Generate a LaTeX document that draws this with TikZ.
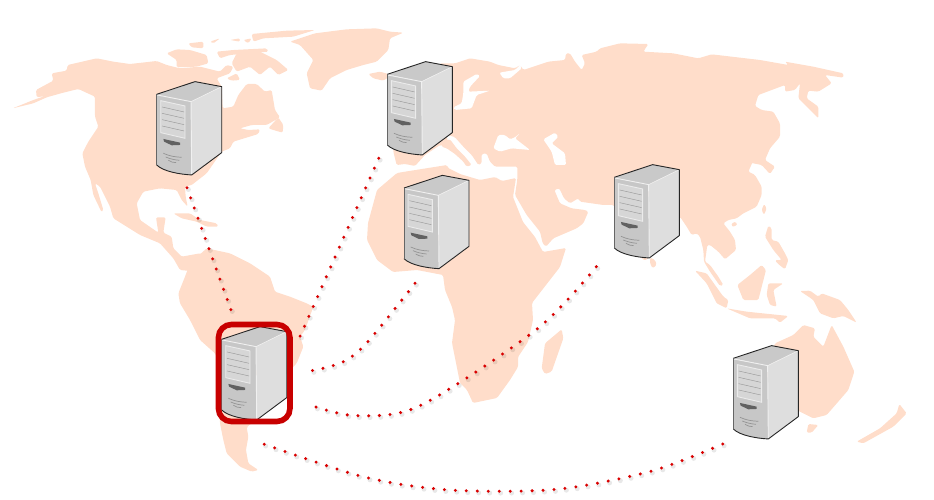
\documentclass[tikz,border=0pt]{standalone}
\definecolor{mapc}{RGB}{255,221,202}
\definecolor{linkred}{RGB}{218,0,0}
\definecolor{boxred}{RGB}{200,0,0}
\tikzset{
  land/.style={fill=mapc,draw=none,rounded corners=1.4pt},
  water/.style={fill=white,draw=none,rounded corners=1.4pt},
  zoomframe/.style={shift={#1},x=0.33333pt,y=-0.33333pt},
  dotshadow/.style={draw=black,draw opacity=.09,line width=5pt,line cap=round,dash pattern=on 0pt off #1,transform canvas={shift={(1.4pt,-1.8pt)}}},
  dottedlink/.style={draw=linkred,line width=3.3pt,line cap=round,dash pattern=on 0pt off #1},
  topface/.style={fill=black!21,draw=none},
  frontface/.style={fill=black!22,draw=none},
  sideface/.style={fill=black!13,draw=none},
  serveredge/.style={draw=black!85,line width=.9pt,line join=round,fill=none},
  panel/.style={fill=black!16,draw=black!8,line width=.9pt},
  slat/.style={draw=black!40,line width=.45pt},
  vent/.style={draw=black!42,line width=.7pt},
  server/.pic={
    \begin{scope}[x=0.33333pt,y=-0.33333pt]
      \fill[frontface] (0,0) -- (103,22) -- (105,242) .. controls (70,240) and (20,232) .. (0,212) -- cycle;
      \fill[topface] (0,0) -- (115,-38) -- (195,-23) -- (103,22) -- cycle;
      \fill[sideface] (103,22) -- (195,-23) -- (195,175) -- (105,242) -- cycle;
      \draw[draw=black!6,line width=.9pt] (1,2) -- (103,22) -- (105,240);
      \draw[draw=black!6,line width=.6pt] (103,22) -- (195,-23);
      \draw[panel] (12,19) -- (85,35) -- (85,132) -- (12,115) -- cycle;
      \draw[slat] (16,38) -- (82,53) (16,57) -- (82,72) (16,76) -- (82,91) (16,95) -- (82,110);
      \fill[black!62] (20,134) -- (70,145) -- (70,152) -- (45,153) -- (22,142) -- cycle;
      \draw[vent] (20,177) .. controls (40,186) and (55,188) .. (75,189);
      \draw[vent] (27,188) .. controls (40,194) and (55,197) .. (68,198);
      \draw[vent] (35,198) .. controls (42,203) and (50,205) .. (58,205);
      \draw[serveredge] (0,0) -- (115,-38) -- (195,-23) -- (195,175) -- (105,242) .. controls (70,240) and (20,232) .. (0,212);
      \draw[draw=black!60,line width=.9pt] (0,0) -- (0,212);
    \end{scope}
  }
}
\begin{document}
\begin{tikzpicture}[x=1pt,y=-1pt]
\useasboundingbox (0,0) rectangle (934,500);
% ---------- map: Americas, frame of the north-west
\begin{scope}[zoomframe={(0,10)}]
  \fill[land] (38,295) -- (100,270) -- (135,258) -- (110,262) -- (108,240) -- (160,212) -- (155,190) -- (200,182) -- (203,165) -- (290,145) -- (340,155) -- (390,162) -- (470,153) -- (500,165) -- (540,175) -- (600,170) -- (660,185) -- (680,165) -- (700,170) -- (690,190) -- (650,205) -- (665,230) -- (668,295) -- (700,290) -- (715,255) -- (740,222) -- (770,222) -- (795,245) -- (815,240) -- (825,300) -- (840,322) -- (800,345) -- (755,345) -- (720,355) -- (745,360) -- (780,358) -- (775,372) -- (700,395) -- (690,415) -- (665,425) -- (620,490) -- (575,525) -- (555,530) -- (557,560) -- (563,590) -- (545,570) -- (530,540) -- (480,535) -- (430,545) -- (410,580) -- (420,630) -- (475,668) -- (468,622) -- (497,622) -- (490,668) -- (515,680) -- (520,715) -- (545,740) -- (600,730) -- (640,735) -- (710,745) -- (640,790) -- (540,780) -- (520,745) -- (480,700) -- (420,675) -- (380,650) -- (340,625) -- (330,590) -- (300,530) -- (285,520) -- (295,550) -- (310,600) -- (305,607) -- (280,555) -- (272,510) -- (255,470) -- (247,430) -- (265,395) -- (295,350) -- (285,320) -- (285,260) -- (235,237) -- (190,248) -- (140,262) -- (100,280) -- cycle;
  % Cuba and Hispaniola
  \fill[land] (520,610) -- (570,610) -- (600,630) -- (650,640) -- (655,650) -- (620,650) -- (590,635) -- (545,625) -- cycle;
  % Newfoundland
  \fill[land] (805,355) -- (835,322) -- (850,345) -- (848,368) -- (820,360) -- cycle;
  % Arctic islands
  \fill[land] (500,130) -- (530,118) -- (570,120) -- (620,135) -- (625,160) -- (590,170) -- (530,172) -- (530,150) -- cycle;
  \fill[land] (565,100) -- (610,95) -- (610,115) -- (575,112) -- cycle;
  \fill[land] (630,95) -- (660,85) -- (640,100) -- cycle;
  \fill[land] (690,90) -- (720,85) -- (720,95) -- cycle;
  \fill[land] (730,90) -- (755,85) -- (745,100) -- cycle;
  \fill[land] (755,72) -- (860,62) -- (945,60) -- (880,80) -- (790,85) -- (760,95) -- cycle;
  \fill[land] (650,125) -- (700,120) -- (800,115) -- (805,125) -- (690,135) -- (660,145) -- cycle;
  \fill[land] (710,130) -- (780,125) -- (830,150) -- (865,180) -- (835,195) -- (810,170) -- (780,195) -- (750,170) -- (710,185) -- (695,160) -- cycle;
  \fill[land] (680,205) -- (710,190) -- (720,210) -- (695,212) -- cycle;
  % Greenland
  \fill[land] (870,95) -- (945,70) -- (1040,58) -- (1130,55) -- (1170,65) -- (1210,68) -- (1170,85) -- (1165,120) -- (1130,155) -- (1090,165) -- (1040,180) -- (990,205) -- (965,242) -- (930,235) -- (920,190) -- (940,150) -- (900,105) -- cycle;
  % Iceland
  \fill[land] (1105,192) -- (1140,185) -- (1175,195) -- (1150,212) -- (1120,205) -- cycle;
\end{scope}
% South America
\begin{scope}[zoomframe={(150,240)}]
  \fill[land] (120,70) -- (170,25) -- (240,40) -- (300,70) -- (360,110) -- (375,155) -- (420,170) -- (470,190) -- (490,200) -- (465,270) -- (450,290) -- (460,320) -- (440,370) -- (412,398) -- (360,470) -- (320,537) -- (290,562) -- (295,590) -- (288,630) -- (295,670) -- (325,690) -- (305,695) -- (270,680) -- (230,640) -- (220,600) -- (210,550) -- (200,350) -- (195,340) -- (150,300) -- (120,240) -- (90,190) -- (85,160) -- (105,110) -- cycle;
\end{scope}
% ---------- Eurasia
\begin{scope}[zoomframe={(460,20)}]
  \fill[land] (-60,130) -- (-15,130) -- (30,115) -- (90,125) -- (115,135) -- (165,145) -- (180,135) -- (190,150) -- (265,125) -- (315,120) -- (318,100) -- (330,100) -- (345,125) -- (365,150) -- (375,130) -- (365,105) -- (410,95) -- (420,85) -- (480,70) -- (565,72) -- (550,95) -- (640,100) -- (715,115) -- (755,103) -- (900,120) -- (985,135) -- (975,125) -- (1060,140) -- (1150,160) -- (1150,173) -- (1095,165) -- (1115,190) -- (1075,215) -- (1045,212) -- (1040,235) -- (1075,260) -- (1075,295) -- (1015,235) -- (1020,190) -- (1005,210) -- (975,215) -- (975,195) -- (895,225) -- (885,258) -- (905,270) -- (940,275) -- (960,310) -- (960,350) -- (930,385) -- (915,420) -- (945,440) -- (930,462) -- (905,435) -- (880,430) -- (840,425) -- (865,400) -- (885,410) -- (865,455) -- (885,465) -- (905,500)
   -- (905,525) -- (890,560) -- (850,580) -- (830,595) -- (805,600) -- (790,610) -- (810,635) -- (825,660) -- (828,690) -- (795,718) -- (775,695) -- (750,675) -- (742,675) -- (735,725) -- (750,735) -- (775,770) -- (790,795) -- (780,798) -- (750,755) -- (732,725) -- (730,690) -- (720,650) -- (710,640) -- (695,645) -- (680,620) -- (660,590) -- (640,650) -- (555,722) -- (540,710) -- (500,600) -- (460,555) -- (430,555) -- (360,545) -- (355,535) -- (330,550) -- (312,535) -- (298,505) -- (283,510) -- (300,550) -- (335,565) -- (375,570) -- (385,575) -- (370,610) -- (350,625) -- (280,655) -- (258,680) -- (248,670) -- (240,635) -- (200,585) -- (165,525) -- (172,478) -- (172,440) -- (105,440) -- (90,425) -- (80,400) -- (65,402) -- (65,430) -- (55,435) -- (35,405) -- (10,380) -- (-15,352) -- (-25,348) -- (-60,340) -- cycle;
\end{scope}
% inland water
\begin{scope}[zoomframe={(440,50)}]
  \fill[water] (70,95) -- (110,72) -- (120,78) -- (90,110) -- (85,125) -- (150,122) -- (110,135) -- (95,175) -- (45,180) -- (40,172) -- (65,160) -- (70,130) -- cycle;
  \fill[water] (178,68) -- (225,60) -- (240,45) -- (245,55) -- (210,85) -- (190,85) -- cycle;
  \fill[water] (160,295) -- (175,255) -- (195,255) -- (210,268) -- (225,262) -- (240,250) -- (225,265) -- (270,300) -- (215,295) -- (180,305) -- cycle;
  \fill[water] (310,268) -- (345,248) -- (355,260) -- (335,280) -- (375,310) -- (378,345) -- (345,345) -- (335,305) -- cycle;
\end{scope}
% Spain and France, Italy
\begin{scope}[zoomframe={(360,140)}]
  \fill[land] (100,35) -- (110,75) -- (135,72) -- (165,78) -- (195,45) -- (240,15) -- (262,20) -- (262,-10) -- (100,-10) -- cycle;
  \fill[land] (245,5) -- (270,-2) -- (290,25) -- (315,50) -- (335,75) -- (320,80) -- (310,65) -- (285,42) -- (260,25) -- (245,20) -- cycle;
\end{scope}
% Africa
\fill[land] (403,172) -- (447,165) -- (448,168) -- (460,174) -- (480,180) -- (495,177) -- (502,181) -- (516,178) -- (513,197) -- (523,222) -- (535,237) -- (543,252) -- (566,248) -- (560,267) -- (532,303) -- (533,320) -- (528,342) -- (518,357) -- (518,367) -- (510,380) -- (497,398) -- (473,403) -- (467,390) -- (460,383) -- (452,343) -- (455,320) -- (452,307) -- (445,290) -- (443,275) -- (417,270) -- (393,272) -- (377,260) -- (367,240) -- (368,223) -- (377,190) -- (397,173) -- cycle;
% ---------- islands, frame of the south-east
\begin{scope}[zoomframe={(460,240)}]
  % Madagascar
  \fill[land] (305,268) -- (310,295) -- (275,395) -- (255,402) -- (245,385) -- (255,310) -- cycle;
  % Sri Lanka
  \fill[land] (570,52) -- (585,60) -- (590,75) -- (578,85) -- (570,70) -- cycle;
  % Sumatra, Java, Borneo, Sulawesi
  \fill[land] (705,92) -- (740,100) -- (790,170) -- (805,180) -- (800,205) -- (770,190) -- (740,130) -- cycle;
  \fill[land] (800,205) -- (860,215) -- (985,228) -- (960,248) -- (945,235) -- (870,235) -- cycle;
  \fill[land] (905,75) -- (918,90) -- (895,180) -- (850,180) -- (832,135) -- (870,105) -- cycle;
  \fill[land] (925,130) -- (970,130) -- (940,150) -- (950,200) -- (930,195) -- (920,165) -- cycle;
  % New Guinea
  \fill[land] (1020,153) -- (1050,152) -- (1075,170) -- (1085,160) -- (1140,180) -- (1165,210) -- (1190,248) -- (1150,228) -- (1120,235) -- (1080,220) -- (1060,180) -- cycle;
  % Australia
  \fill[land] (945,310) -- (1000,285) -- (1030,255) -- (1065,265) -- (1060,290) -- (1090,320) -- (1115,255) -- (1150,320) -- (1183,395) -- (1165,450) -- (1100,525) -- (1060,535) -- (1020,515) -- (900,450) -- cycle;
  % Tasmania
  \fill[land] (1045,552) -- (1075,555) -- (1055,578) -- (1040,578) -- cycle;
  % New Zealand
  \fill[land] (1190,605) -- (1260,565) -- (1310,520) -- (1318,492) -- (1340,520) -- (1300,560) -- (1210,610) -- cycle;
\end{scope}
\begin{scope}[zoomframe={(690,190)}]
  \fill[land] (130,95) -- (143,100) -- (135,110) -- (123,108) -- cycle;
  \fill[land] (222,42) -- (230,55) -- (222,75) -- (215,60) -- cycle;
  \fill[land] (235,107) -- (245,115) -- (245,150) -- (265,155) -- (285,190) -- (295,210) -- (285,238) -- (262,220) -- (255,210) -- (275,210) -- (250,180) -- (225,140) -- cycle;
\end{scope}
% ---------- named connector ends
\coordinate (a1) at (187,187.7);   \coordinate (a2) at (231,310);
\coordinate (b1) at (378.7,158.3); \coordinate (b2) at (300,336.3);
\coordinate (c1) at (415,283.3);   \coordinate (c2) at (367.3,342.3); \coordinate (c3) at (342.3,362.3); \coordinate (c4) at (311.7,370.7);
\coordinate (d1) at (596.3,266.7); \coordinate (d2) at (536.7,329.3); \coordinate (d3) at (420,405.7); \coordinate (d4) at (356.7,415.7); \coordinate (d5) at (315,406.7);
\coordinate (e1) at (722.7,444);   \coordinate (e2) at (651.7,471);   \coordinate (e3) at (556.7,489.3); \coordinate (e4) at (450,490); \coordinate (e5) at (363,476.7); \coordinate (e6) at (261.7,443.3);
\draw[dotshadow=10.8pt] (a1) -- (a2);
\draw[dotshadow=10.8pt] (b1) -- (b2);
\draw[dotshadow=10.7pt] plot[smooth] coordinates {(c1) (c2) (c3) (c4)};
\draw[dotshadow=10.73pt] plot[smooth] coordinates {(d1) (d2) (d3) (d4) (d5)};
\draw[dotshadow=10.97pt] plot[smooth] coordinates {(e1) (e2) (e3) (e4) (e5) (e6)};
\draw[dottedlink=10.8pt] (a1) -- (a2);
\draw[dottedlink=10.8pt] (b1) -- (b2);
\draw[dottedlink=10.7pt] plot[smooth] coordinates {(c1) (c2) (c3) (c4)};
\draw[dottedlink=10.73pt] plot[smooth] coordinates {(d1) (d2) (d3) (d4) (d5)};
\draw[dottedlink=10.97pt] plot[smooth] coordinates {(e1) (e2) (e3) (e4) (e5) (e6)};
% ---------- servers
\pic (s1) at (156.7,94.3) {server};
\pic (s2) at (387.3,74.3) {server};
\pic (s3) at (404,188) {server};
\pic (s4) at (614.3,177.3) {server};
\pic (s5) at (733.3,358.3) {server};
\pic (s6) at (221.7,339.3) {server};
\node[draw=boxred,line width=5.6pt,rounded corners=13pt,minimum width=71.5pt,minimum height=97pt,inner sep=0pt] (hub) at (254.2,373) {};
\end{tikzpicture}
\end{document}
